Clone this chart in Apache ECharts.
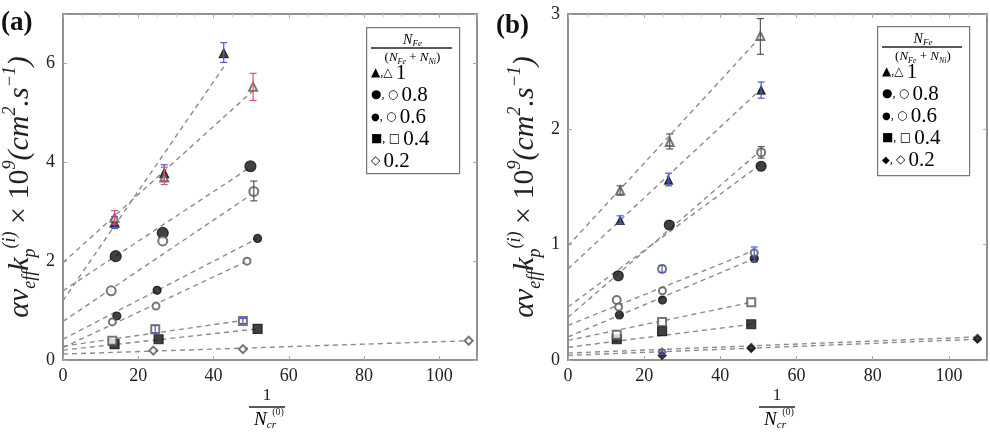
<!DOCTYPE html>
<html>
<head>
<meta charset="utf-8">
<script src="https://cdn.jsdelivr.net/npm/echarts@6/dist/echarts.min.js"></script>
<style>
  html, body { margin: 0; padding: 0; background: #fff; }
  #chart { width: 990px; height: 433px; }
</style>
</head>
<body>
<div id="chart"></div>
<script>
// ---- panel (a) data: [1/Ncr, value] ----
const aTriFilled = [[13.7, 2.78], [26.9, 3.78], [42.7, 6.21]]
const aTriOpen = [[13.7, 2.88], [26.9, 3.69], [50.5, 5.53]]
const aCirBig = [[14.0, 2.10], [26.5, 2.57], [49.8, 3.92]]
const aCirBigOpen = [[12.8, 1.40], [26.5, 2.41], [50.7, 3.41]]
const aCirSmall = [[14.3, 0.89], [25.0, 1.41], [51.7, 2.46]]
const aCirSmallOpen = [[13.1, 0.77], [24.7, 1.09], [48.9, 2.00]]
const aSq = [[13.7, 0.32], [25.4, 0.42], [51.7, 0.63]]
const aSqOpen = [[13.1, 0.39], [24.5, 0.62], [47.8, 0.79]]
const aDiaOpen = [[24.0, 0.19], [47.8, 0.22], [107.8, 0.39]]
// fitted lines (start, end)
const aFits = [
  [[0, 1.20], [42.7, 5.93]],
  [[0, 1.97], [50.5, 5.45]],
  [[0, 1.40], [49.8, 3.90]],
  [[0, 0.78], [50.7, 3.38]],
  [[0, 0.42], [51.7, 2.46]],
  [[0, 0.25], [48.9, 2.00]],
  [[0, 0.20], [51.7, 0.63]],
  [[0, 0.28], [47.8, 0.80]],
  [[0, 0.12], [107.8, 0.39]]
]
// error bars: [x, low, high]
const aErrBlue = [[42.7, 6.02, 6.42], [26.9, 3.62, 3.95], [13.7, 2.66, 2.9], [24.5, 0.55, 0.7], [47.8, 0.74, 0.84]]
const aErrRed = [[50.5, 5.25, 5.8], [26.9, 3.55, 3.9], [13.7, 2.75, 3.02]]
const aErrGray = [[50.7, 3.22, 3.62]]

// ---- panel (b) data ----
const bTriFilled = [[13.7, 1.21], [26.4, 1.56], [50.7, 2.34]]
const bTriOpen = [[13.7, 1.47], [26.7, 1.89], [50.5, 2.81]]
const bCirBig = [[13.2, 0.73], [26.6, 1.17], [50.7, 1.68]]
const bCirBigOpen = [[12.8, 0.52], [24.7, 0.79], [50.7, 1.80]]
const bCirSmall = [[13.5, 0.39], [24.8, 0.52], [48.9, 0.88]]
const bCirSmallOpen = [[13.3, 0.46], [24.8, 0.60], [48.9, 0.93]]
const bSq = [[12.8, 0.18], [24.7, 0.25], [48.1, 0.31]]
const bSqOpen = [[12.8, 0.22], [24.7, 0.33], [48.1, 0.50]]
const bDia = [[24.7, 0.04], [48.1, 0.10], [107.5, 0.18]]
const bDiaOpen = [[24.7, 0.07], [48.1, 0.11], [107.5, 0.19]]
const bFits = [
  [[0, 0.99], [50.5, 2.80]],
  [[0, 0.79], [50.7, 2.35]],
  [[0, 0.46], [50.7, 1.70]],
  [[0, 0.37], [50.7, 1.82]],
  [[0, 0.20], [48.9, 0.88]],
  [[0, 0.30], [48.9, 0.95]],
  [[0, 0.11], [48.1, 0.31]],
  [[0, 0.17], [48.1, 0.50]],
  [[0, 0.04], [107.5, 0.18]],
  [[0, 0.06], [107.5, 0.20]]
]
const bErrBlue = [[50.7, 2.27, 2.41], [26.4, 1.51, 1.62], [13.7, 1.18, 1.25], [48.9, 0.85, 0.98], [24.7, 0.76, 0.82], [24.7, 0.05, 0.09]]
const bErrGray = [[50.5, 2.65, 2.96], [26.7, 1.83, 1.96], [13.7, 1.43, 1.51], [50.7, 1.75, 1.85]]

const xTicks = [0, 20, 40, 60, 80, 100]

const serif = "'Liberation Serif', 'DejaVu Serif', serif"
const axisGray = '#8a8a8a'

const fitSeries = (data, i) => ({
  type: 'line', xAxisIndex: i, yAxisIndex: i, data, symbol: 'none', silent: true, z: 1,
  lineStyle: { color: '#8c8c8c', width: 1.4, type: [5, 4] }
})

const pts = (data, i, symbol, size) => ({
  type: 'scatter', xAxisIndex: i, yAxisIndex: i, data, symbol, symbolSize: size, z: 4,
  itemStyle: { color: symbol.startsWith('empty') ? '#555' : '#111', borderColor: symbol.startsWith('empty') ? '#555' : '#111', borderWidth: 1.2 }
})

const errs = (data, i, color) => ({
  type: 'custom', xAxisIndex: i, yAxisIndex: i, data, z: 5,
  encode: { x: 0, y: [1, 2] },
  renderItem: (params, api) => {
    const lo = api.coord([api.value(0), api.value(1)])
    const hi = api.coord([api.value(0), api.value(2)])
    const st = { stroke: color, lineWidth: 1.2 }
    return {
      type: 'group',
      children: [
        { type: 'line', shape: { x1: lo[0], y1: lo[1], x2: hi[0], y2: hi[1] }, style: st },
        { type: 'line', shape: { x1: lo[0] - 3.5, y1: lo[1], x2: lo[0] + 3.5, y2: lo[1] }, style: st },
        { type: 'line', shape: { x1: hi[0] - 3.5, y1: hi[1], x2: hi[0] + 3.5, y2: hi[1] }, style: st }
      ]
    }
  }
})

const yName = '{i|αν}{s|eff}{i|k}{s|p}{u|(i)}{n| × 10}{u|9}{i|(cm}{u|2}{i|.s}{u|−1}{i|)}'
const yNameRich = {
  i: { fontFamily: serif, fontStyle: 'italic', fontSize: 30, color: '#222', lineHeight: 38 },
  n: { fontFamily: serif, fontSize: 30, color: '#222', lineHeight: 38 },
  s: { fontFamily: serif, fontStyle: 'italic', fontSize: 18, color: '#222', verticalAlign: 'bottom', lineHeight: 38 },
  u: { fontFamily: serif, fontStyle: 'italic', fontSize: 18, color: '#222', verticalAlign: 'top', lineHeight: 38 }
}

const makeX = (grid, max, pos) => ({
  type: 'value', gridIndex: grid, min: 0, max, interval: 20, position: pos,
  axisLine: { show: true, onZero: false, lineStyle: { color: axisGray, width: 1.5 } },
  axisTick: { show: true, inside: true, length: 4, lineStyle: { color: '#aaa' } },
  minorTick: { show: pos === 'top', splitNumber: 4, length: 3, lineStyle: { color: '#ccc' } },
  splitLine: { show: false },
  axisLabel: pos === 'top' ? { show: false } : {
    fontFamily: serif, fontSize: 18, color: '#222', margin: 7,
    formatter: v => (xTicks.includes(v) ? String(v) : '')
  }
})

const makeY = (grid, max, interval, pos, name) => ({
  type: 'value', gridIndex: grid, min: 0, max, interval, position: pos,
  axisLine: { show: true, onZero: false, lineStyle: { color: axisGray, width: 1.5 } },
  axisTick: { show: true, inside: true, length: 4, lineStyle: { color: '#aaa' } },
  splitLine: { show: false },
  name: name || '', nameLocation: 'middle', nameRotate: 90, nameGap: 24,
  nameTextStyle: { rich: yNameRich },
  axisLabel: pos === 'right' ? { show: false } : {
    fontFamily: serif, fontSize: 18, color: '#222', margin: 8,
    formatter: v => (v % interval === 0 ? String(v) : '')
  }
})

// legend drawn as graphic
const legRich = {
  f: { fontFamily: 'DejaVu Sans', fontSize: 12, color: '#111' },
  m: { fontFamily: 'DejaVu Sans', fontSize: 10, color: '#111' },
  o: { fontFamily: 'DejaVu Sans', fontSize: 12, color: '#555' },
  c: { fontFamily: serif, fontSize: 12, color: '#333' },
  n: { fontFamily: serif, fontSize: 21, color: '#222' }
}
const legendBox = (x, y, w, h, rows) => {
  const els = [
    { type: 'rect', left: x, top: y, shape: { width: w, height: h }, style: { fill: '#fff', stroke: '#777', lineWidth: 1.2 }, z: 10 },
    { type: 'text', x: x + w / 2, y: y + 13, z: 11, style: { text: '{i|N}{s|Fe}', rich: { i: { fontFamily: serif, fontStyle: 'italic', fontSize: 14, color: '#333' }, s: { fontFamily: serif, fontStyle: 'italic', fontSize: 9, color: '#333', verticalAlign: 'bottom', lineHeight: 16 } }, align: 'center', verticalAlign: 'middle' } },
    { type: 'line', z: 11, shape: { x1: x + 5, y1: y + 21, x2: x + w - 7, y2: y + 21 }, style: { stroke: '#222', lineWidth: 1.3 } },
    { type: 'text', x: x + w / 2, y: y + 31, z: 11, style: { text: '{p|(}{i|N}{s|Fe}{p| + }{i|N}{s|Ni}{p|)}', rich: { p: { fontFamily: serif, fontSize: 13, color: '#333' }, i: { fontFamily: serif, fontStyle: 'italic', fontSize: 13, color: '#333' }, s: { fontFamily: serif, fontStyle: 'italic', fontSize: 8, color: '#333', verticalAlign: 'bottom', lineHeight: 16 } }, align: 'center', verticalAlign: 'middle' } }
  ]
  rows.forEach((r, k) => {
    els.push({ type: 'text', x: x + 5, y: y + 46 + k * 22, z: 11, style: { text: r, rich: legRich, verticalAlign: 'middle' } })
  })
  return els
}

const fraction = (cx) => [
  { type: 'text', x: cx, y: 396, style: { text: '1', fontFamily: serif, fontSize: 17, fill: '#222', align: 'center', verticalAlign: 'middle' } },
  { type: 'line', shape: { x1: cx - 18, y1: 407, x2: cx + 18, y2: 407 }, style: { stroke: '#222', lineWidth: 1.6 } },
  { type: 'text', x: cx - 2, y: 420, style: { text: '{i|N}{s|cr}', rich: { i: { fontFamily: serif, fontStyle: 'italic', fontSize: 19, color: '#222' }, s: { fontFamily: serif, fontStyle: 'italic', fontSize: 11, color: '#222', verticalAlign: 'bottom', lineHeight: 22 } }, align: 'center', verticalAlign: 'middle' } },
  { type: 'text', x: cx + 11, y: 412, style: { text: '(0)', fontFamily: serif, fontSize: 10, fill: '#222', align: 'center', verticalAlign: 'middle' } }
]

const chart = echarts.init(document.getElementById('chart'))
chart.setOption({
  animation: false,
  grid: [
    { left: 58, top: 14, width: 419, height: 346, show: true, borderColor: axisGray, borderWidth: 1.5 },
    { left: 568, top: 14, width: 419, height: 346, show: true, borderColor: axisGray, borderWidth: 1.5 }
  ],
  xAxis: [makeX(0, 110, 'bottom'), makeX(0, 110, 'top'), makeX(1, 110, 'bottom'), makeX(1, 110, 'top')],
  yAxis: [makeY(0, 7, 2, 'left', yName), makeY(0, 7, 2, 'right'), makeY(1, 3, 1, 'left', yName), makeY(1, 3, 1, 'right')],
  graphic: [
    { type: 'text', left: 1, top: 10, style: { text: '(a)', fontFamily: serif, fontWeight: 'bold', fontSize: 27, fill: '#111' } },
    { type: 'text', left: 496, top: 13, style: { text: '(b)', fontFamily: serif, fontWeight: 'bold', fontSize: 27, fill: '#111' } },
    ...legendBox(366, 27, 93, 146, ['{f|▲}{c|,}{o|△} {n|1}', '{f|●}{c|,} {o|○} {n|0.8}', '{m|●}{c|,} {o|○} {n|0.6}', '{f|■}{c|,} {o|□} {n|0.4}', '{o|◇} {n|0.2}']),
    ...legendBox(877, 26, 92, 149, ['{f|▲}{c|,}{o|△} {n|1}', '{f|●}{c|,} {o|○} {n|0.8}', '{m|●}{c|,} {o|○} {n|0.6}', '{f|■}{c|,} {o|□} {n|0.4}', '{m|◆}{c|,} {o|◇} {n|0.2}']),
    ...fraction(267),
    ...fraction(777)
  ],
  series: [
    ...aFits.map(d => fitSeries(d, 0)),
    pts(aTriFilled, 0, 'triangle', 9),
    pts(aTriOpen, 0, 'emptyTriangle', 8),
    pts(aCirBig, 0, 'circle', 11),
    pts(aCirBigOpen, 0, 'emptyCircle', 9),
    pts(aCirSmall, 0, 'circle', 8),
    pts(aCirSmallOpen, 0, 'emptyCircle', 7),
    pts(aSq, 0, 'rect', 9),
    pts(aSqOpen, 0, 'emptyRect', 8),
    pts(aDiaOpen, 0, 'emptyDiamond', 8),
    errs(aErrBlue, 0, '#4a5bd4'),
    errs(aErrRed, 0, '#e0506a'),
    errs(aErrGray, 0, '#555'),
    ...bFits.map(d => fitSeries(d, 2)),
    pts(bTriFilled, 2, 'triangle', 8),
    pts(bTriOpen, 2, 'emptyTriangle', 8),
    pts(bCirBig, 2, 'circle', 10),
    pts(bCirBigOpen, 2, 'emptyCircle', 8),
    pts(bCirSmall, 2, 'circle', 8),
    pts(bCirSmallOpen, 2, 'emptyCircle', 7),
    pts(bSq, 2, 'rect', 9),
    pts(bSqOpen, 2, 'emptyRect', 8),
    pts(bDiaOpen, 2, 'emptyDiamond', 7),
    pts(bDia, 2, 'diamond', 8),
    errs(bErrBlue, 2, '#4a5bd4'),
    errs(bErrGray, 2, '#555')
  ]
})
</script>
</body>
</html>
